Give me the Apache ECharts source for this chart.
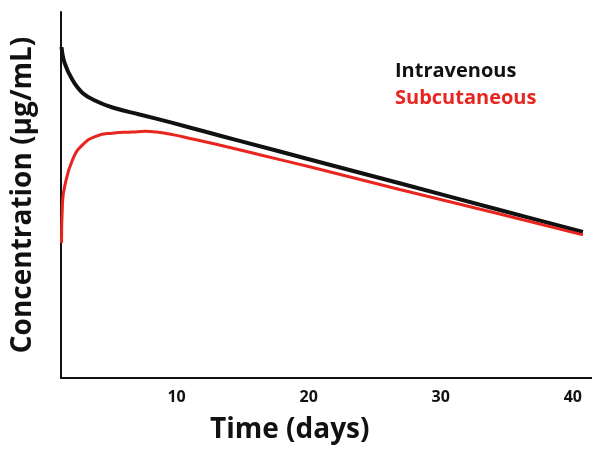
<!DOCTYPE html>
<html>
<head>
<meta charset="utf-8">
<script src="https://cdn.jsdelivr.net/npm/echarts@6/dist/echarts.min.js"></script>
<style>
  html, body { margin: 0; padding: 0; background: #fff; }
  #chart { width: 592px; height: 451px; }
</style>
</head>
<body>
<div id="chart"></div>
<script>
// 时间点 (days) 与浓度 (相对值)
const ivDays = [1.29, 1.52, 2.12, 2.88, 3.94, 5.15, 7.2, 9.7, 12.27, 14.77, 20.3, 26.89, 34.47, 40.76]
const ivConc = [90.4, 86.1, 81.4, 77.9, 75.6, 73.9, 72.0, 69.7, 67.2, 64.8, 59.5, 53.2, 45.9, 39.9]
const scDays = [1.29, 1.36, 1.52, 2.12, 2.88, 3.94, 5.15, 6.67, 7.6, 8.48, 9.7, 11.21, 13.79, 16.29, 20.3, 26.89, 34.47, 40.76]
const scConc = [36.9, 47.5, 52.2, 59.6, 63.7, 66.1, 66.9, 67.2, 67.4, 67.2, 66.5, 65.3, 63.2, 61.0, 57.5, 51.5, 44.8, 39.1]
const xTicks = [10, 20, 30, 40]

const font = '"Open Sans", "Noto Sans", sans-serif'
const red = '#e8251f'

const chart = echarts.init(document.getElementById('chart'))

const option = {
  animation: false,
  grid: { left: 61, right: 0, top: 12, bottom: 73 },
  legend: {
    orient: 'vertical',
    left: 385,
    top: 56,
    itemGap: 7,
    icon: 'none',
    itemWidth: 0,
    textStyle: { fontFamily: font, fontWeight: 'bold', fontSize: 20 },
    data: [
      { name: 'Intravenous', textStyle: { color: '#111' } },
      { name: 'Subcutaneous', textStyle: { color: red } }
    ]
  },
  xAxis: {
    type: 'value',
    min: 1.25,
    max: 41.45,
    splitLine: { show: false },
    axisTick: { show: false },
    axisLine: { lineStyle: { color: '#111', width: 2 } },
    axisLabel: {
      customValues: xTicks,
      margin: 11,
      color: '#111',
      fontFamily: font,
      fontWeight: 'bold',
      fontSize: 16
    }
  },
  yAxis: {
    type: 'value',
    min: 0,
    max: 100,
    name: 'Concentration (µg/mL)',
    nameLocation: 'middle',
    nameGap: 24,
    nameTextStyle: { color: '#111', fontFamily: font, fontWeight: 'bold', fontSize: 28 },
    splitLine: { show: false },
    axisTick: { show: false },
    axisLabel: { show: false },
    axisLine: { show: true, lineStyle: { color: '#111', width: 2 } }
  },
  graphic: [
    {
      type: 'text',
      left: 210,
      top: 416,
      style: { text: 'Time (days)', fill: '#111', font: 'bold 28px ' + font }
    }
  ],
  series: [
    {
      name: 'Intravenous',
      type: 'line',
      smooth: 0.4,
      showSymbol: false,
      lineStyle: { color: '#111', width: 4 },
      itemStyle: { color: '#111' },
      data: ivDays.map((d, i) => [d, ivConc[i]])
    },
    {
      name: 'Subcutaneous',
      type: 'line',
      smooth: 0.5,
      showSymbol: false,
      lineStyle: { color: red, width: 3 },
      itemStyle: { color: red },
      data: scDays.map((d, i) => [d, scConc[i]])
    }
  ]
}

chart.setOption(option)
</script>
</body>
</html>
